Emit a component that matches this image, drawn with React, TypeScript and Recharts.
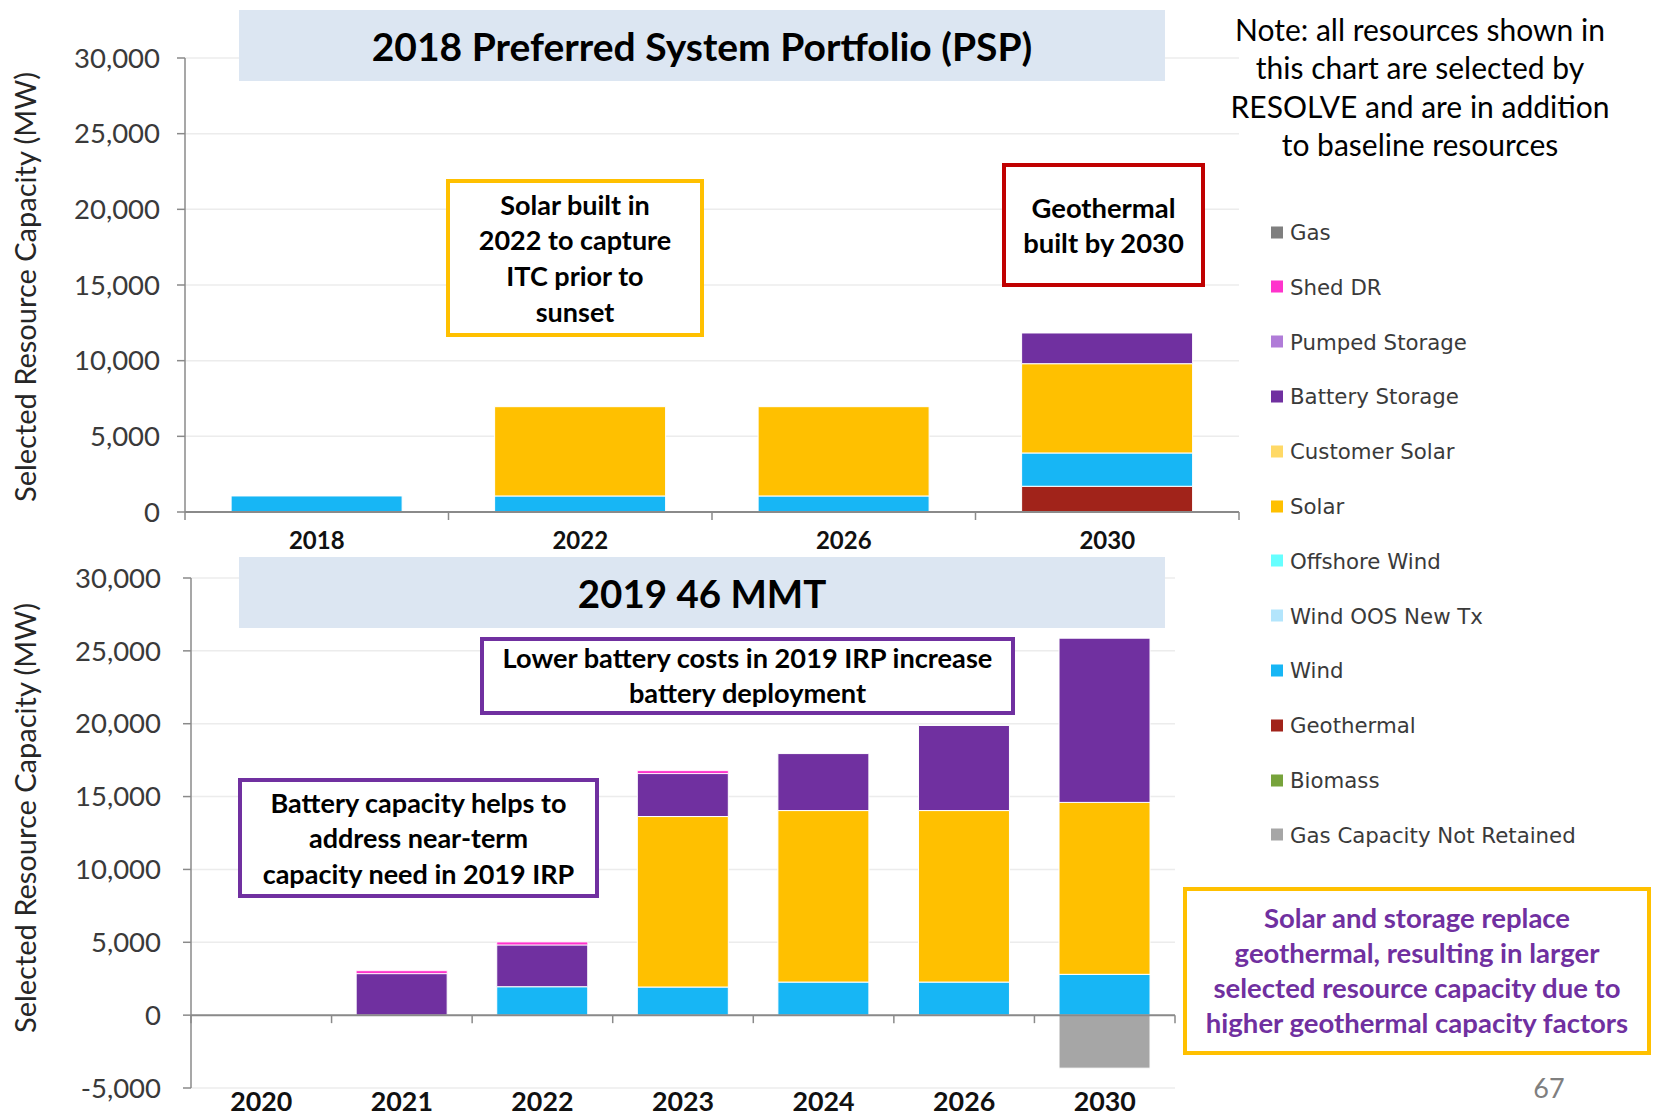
import React from 'react';
import { BarChart, Bar, XAxis, YAxis, CartesianGrid, ReferenceLine } from 'recharts';

// ---------- categories ----------
const PSP_YEARS = ['2018', '2022', '2026', '2030'];
const MMT_YEARS = ['2020', '2021', '2022', '2023', '2024', '2026', '2030'];

// ---------- 2018 PSP series (MW) ----------
const PSP_GEOTHERMAL = [0, 0, 0, 1700];
const PSP_WIND = [1060, 1060, 1060, 2200];
const PSP_SOLAR = [0, 5900, 5900, 5900];
const PSP_BATTERY = [0, 0, 0, 2030];

// ---------- 2019 46 MMT series (MW) ----------
const MMT_GAS_NOT_RETAINED = [0, 0, 0, 0, 0, 0, -3640];
const MMT_WIND = [0, 0, 1950, 1930, 2270, 2270, 2800];
const MMT_SOLAR = [0, 0, 0, 11700, 11770, 11770, 11800];
const MMT_BATTERY = [0, 2850, 2870, 2950, 3910, 5840, 11270];
const MMT_SHED_DR = [0, 200, 200, 200, 0, 0, 0];

// ---------- ticks ----------
const PSP_TICKS = [0, 5000, 10000, 15000, 20000, 25000, 30000];
const MMT_TICKS = [-5000, 0, 5000, 10000, 15000, 20000, 25000, 30000];

// ---------- legend (top of stack first) ----------
const LEGEND_NAMES = [
  'Gas', 'Shed DR', 'Pumped Storage', 'Battery Storage', 'Customer Solar', 'Solar',
  'Offshore Wind', 'Wind OOS New Tx', 'Wind', 'Geothermal', 'Biomass', 'Gas Capacity Not Retained',
];
const LEGEND_COLORS = [
  '#7f7f7f', '#ff33cc', '#b07cd8', '#7030a0', '#ffd966', '#ffc000',
  '#66ffff', '#b3e5fc', '#17b6f5', '#a1231a', '#77a33b', '#a6a6a6',
];

const COLOR = {
  gasNR: '#a6a6a6', geothermal: '#a1231a', wind: '#17b6f5', solar: '#ffc000',
  battery: '#7030a0', shedDR: '#ff33cc',
};

const pspData = PSP_YEARS.map((year, i) => ({
  year,
  geothermal: PSP_GEOTHERMAL[i],
  wind: PSP_WIND[i],
  solar: PSP_SOLAR[i],
  battery: PSP_BATTERY[i],
}));

const mmtData = MMT_YEARS.map((year, i) => ({
  year,
  gasNR: MMT_GAS_NOT_RETAINED[i],
  wind: MMT_WIND[i],
  solar: MMT_SOLAR[i],
  battery: MMT_BATTERY[i],
  shedDR: MMT_SHED_DR[i],
}));

const FONT = 'Lato, "Open Sans", sans-serif';
const AXIS_GRAY = '#8a8a8a';

const fmt = (v: number) => v.toLocaleString('en-US');

const zeroAxisShape = (n: number) => (props: any) => {
  const { x1, x2, y1 } = props;
  const step = (x2 - x1) / n;
  const ticks = [];
  for (let i = 0; i <= n; i++) {
    const x = x1 + i * step;
    ticks.push(<line key={i} x1={x} x2={x} y1={y1} y2={y1 + 8} stroke={AXIS_GRAY} strokeWidth={1.5} />);
  }
  return (
    <g>
      <line x1={x1} x2={x2} y1={y1} y2={y1} stroke={AXIS_GRAY} strokeWidth={2} />
      {ticks}
    </g>
  );
};

const makeXTick = (offset: number, size: number, family: string) => (props: any) => {
  const { x, y, payload } = props;
  return (
    <text x={x} y={y + offset} textAnchor="middle" dominantBaseline="central"
      fontFamily={family} fontWeight={700} fontSize={size} fill="#111">
      {payload.value}
    </text>
  );
};

const yTickStyle = { fill: '#3a3a3a', fontSize: 27.5, fontFamily: FONT };

const abs = (s: React.CSSProperties): React.CSSProperties => ({ position: 'absolute', ...s });

const Box = ({ left, top, width, height, border, color, size, lh, lines }: any) => (
  <div style={abs({
    left, top, width, height, boxSizing: 'border-box', border: `4px solid ${border}`,
    background: '#fff', display: 'flex', flexDirection: 'column', alignItems: 'center',
    justifyContent: 'center', fontFamily: FONT, fontWeight: 700, fontSize: size,
    lineHeight: `${lh}px`, color, textAlign: 'center', whiteSpace: 'nowrap',
  })}>
    {lines.map((l: string, i: number) => <div key={i}>{l}</div>)}
  </div>
);

const AxisTitle = ({ cy }: { cy: number }) => (
  <div style={abs({
    left: 24, top: cy, transform: 'translate(-50%, -50%) rotate(-90deg)', whiteSpace: 'nowrap',
    fontFamily: FONT, fontSize: 29, color: '#262626',
  })}>Selected Resource Capacity (MW)</div>
);

export default function App() {
  return (
    <div style={abs({ left: 0, top: 0, width: 1653, height: 1117, background: '#fff', overflow: 'hidden' })}>
      {/* ---------- 2018 PSP chart ---------- */}
      <div style={abs({ left: 0, top: 0 })}>
        <BarChart width={1250} height={560} data={pspData}
          margin={{ top: 58, right: 11, bottom: 0, left: 0 }} barCategoryGap="17.5%">
          <CartesianGrid vertical={false} stroke="#ececec" strokeWidth={1.5} />
          <YAxis width={185} domain={[0, 30000]} ticks={PSP_TICKS} interval={0} tickFormatter={fmt}
            tick={yTickStyle} axisLine={{ stroke: AXIS_GRAY, strokeWidth: 1.5 }}
            tickLine={{ stroke: AXIS_GRAY, strokeWidth: 1.5 }} tickSize={8} tickMargin={17} />
          <XAxis dataKey="year" height={48} axisLine={false} tickLine={false} tickSize={0} tickMargin={0}
            tick={makeXTick(27, 24, FONT)} interval={0} />
          <Bar dataKey="geothermal" stackId="s" fill={COLOR.geothermal} stroke="#fff" strokeWidth={1} isAnimationActive={false} />
          <Bar dataKey="wind" stackId="s" fill={COLOR.wind} stroke="#fff" strokeWidth={1} isAnimationActive={false} />
          <Bar dataKey="solar" stackId="s" fill={COLOR.solar} stroke="#fff" strokeWidth={1} isAnimationActive={false} />
          <Bar dataKey="battery" stackId="s" fill={COLOR.battery} stroke="#fff" strokeWidth={1} isAnimationActive={false} />
          <ReferenceLine y={0} shape={zeroAxisShape(PSP_YEARS.length)} />
        </BarChart>
      </div>

      {/* ---------- 2019 46 MMT chart ---------- */}
      <div style={abs({ left: 0, top: 540 })}>
        <BarChart width={1190} height={577} data={mmtData} stackOffset="sign"
          margin={{ top: 38, right: 15, bottom: 0, left: 0 }} barCategoryGap="17.5%">
          <CartesianGrid vertical={false} stroke="#ececec" strokeWidth={1.5} />
          <YAxis width={191} domain={[-5000, 30000]} ticks={MMT_TICKS} interval={0} tickFormatter={fmt}
            tick={yTickStyle} axisLine={{ stroke: AXIS_GRAY, strokeWidth: 1.5 }}
            tickLine={{ stroke: AXIS_GRAY, strokeWidth: 1.5 }} tickSize={8} tickMargin={22} />
          <XAxis dataKey="year" height={29} axisLine={false} tickLine={false} tickSize={0} tickMargin={0}
            tick={makeXTick(13, 26.8, FONT)} interval={0} />
          <Bar dataKey="gasNR" stackId="s" fill={COLOR.gasNR} stroke="#fff" strokeWidth={1} isAnimationActive={false} />
          <Bar dataKey="wind" stackId="s" fill={COLOR.wind} stroke="#fff" strokeWidth={1} isAnimationActive={false} />
          <Bar dataKey="solar" stackId="s" fill={COLOR.solar} stroke="#fff" strokeWidth={1} isAnimationActive={false} />
          <Bar dataKey="battery" stackId="s" fill={COLOR.battery} stroke="#fff" strokeWidth={1} isAnimationActive={false} />
          <Bar dataKey="shedDR" stackId="s" fill={COLOR.shedDR} stroke="#fff" strokeWidth={0.8} isAnimationActive={false} />
          <ReferenceLine y={0} shape={zeroAxisShape(MMT_YEARS.length)} />
        </BarChart>
      </div>

      {/* ---------- axis titles ---------- */}
      <AxisTitle cy={287} />
      <AxisTitle cy={818} />

      {/* ---------- title bands ---------- */}
      <div style={abs({
        left: 239, top: 10, width: 926, height: 71, background: '#dce6f2', display: 'flex',
        alignItems: 'center', justifyContent: 'center', fontFamily: FONT, fontWeight: 700, fontSize: 39, color: '#000',
      })}>2018 Preferred System Portfolio (PSP)</div>
      <div style={abs({
        left: 239, top: 557, width: 926, height: 71, background: '#dce6f2', display: 'flex',
        alignItems: 'center', justifyContent: 'center', fontFamily: FONT, fontWeight: 700, fontSize: 38.5, color: '#000',
      })}>2019 46 MMT</div>

      {/* ---------- note ---------- */}
      <div style={abs({
        left: 1200, top: 10, width: 440, textAlign: 'center', fontFamily: FONT, fontSize: 30,
        lineHeight: '38.3px', color: '#000', whiteSpace: 'nowrap',
      })}>
        <div>Note: all resources shown in</div>
        <div>this chart are selected by</div>
        <div>RESOLVE and are in addition</div>
        <div>to baseline resources</div>
      </div>

      {/* ---------- annotation boxes ---------- */}
      <Box left={446} top={179} width={258} height={158} border="#ffc000" color="#000" size={27} lh={35.6}
        lines={['Solar built in', '2022 to capture', 'ITC prior to', 'sunset']} />
      <Box left={1002} top={163} width={203} height={124} border="#c00000" color="#000" size={27.4} lh={35}
        lines={['Geothermal', 'built by 2030']} />
      <Box left={480} top={637} width={535} height={78} border="#7030a0" color="#000" size={27.2} lh={34.7}
        lines={['Lower battery costs in 2019 IRP increase', 'battery deployment']} />
      <Box left={238} top={778} width={361} height={120} border="#7030a0" color="#000" size={27} lh={35.5}
        lines={['Battery capacity helps to', 'address near-term', 'capacity need in 2019 IRP']} />
      <Box left={1183} top={887} width={468} height={168} border="#ffc000" color="#7030a0" size={27.5} lh={34.9}
        lines={['Solar and storage replace', 'geothermal, resulting in larger', 'selected resource capacity due to', 'higher geothermal capacity factors']} />

      {/* ---------- legend ---------- */}
      {LEGEND_NAMES.map((name, i) => (
        <div key={name} style={abs({ left: 1271, top: 232 + i * 54.8, transform: 'translateY(-50%)', display: 'flex', alignItems: 'center' })}>
          <div style={{ width: 12, height: 12, background: LEGEND_COLORS[i], marginRight: 7 }} />
          <div style={{ fontFamily: '"DejaVu Sans", Verdana, sans-serif', fontSize: 21.3, color: '#3a3a3a', whiteSpace: 'nowrap' }}>{name}</div>
        </div>
      ))}

      {/* ---------- page number ---------- */}
      <div style={abs({ left: 1549, top: 1087, transform: 'translate(-50%, -50%)', fontFamily: FONT, fontSize: 27, color: '#7f7f7f' })}>67</div>
    </div>
  );
}
